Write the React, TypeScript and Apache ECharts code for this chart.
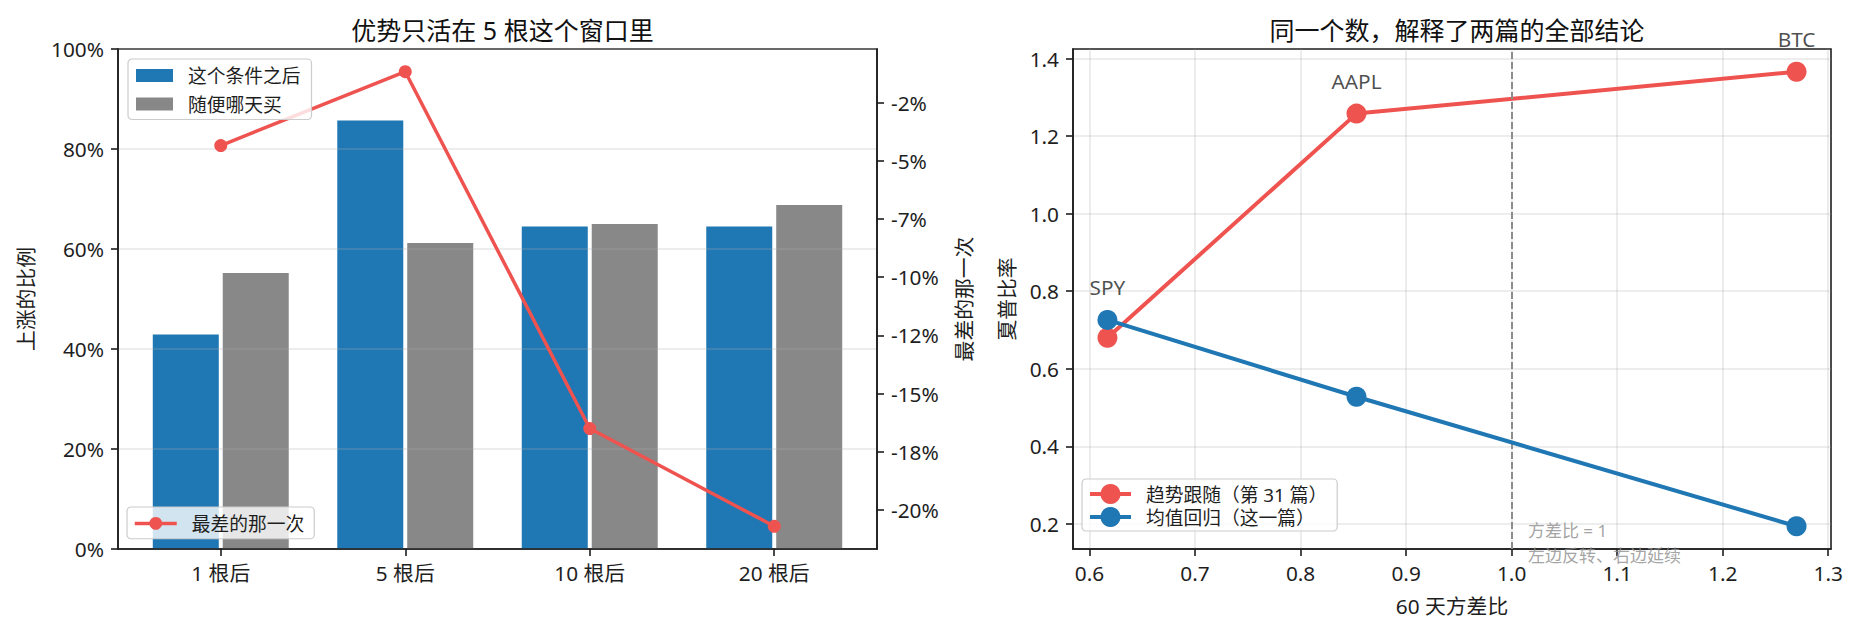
import React, { useEffect, useRef } from "react";
import * as echarts from "echarts";

// ---------- data ----------
const horizons = ["1 根后", "5 根后", "10 根后", "20 根后"];
const afterSignalUp = [42.9, 85.7, 64.5, 64.5];
const randomDayUp = [55.2, 61.2, 65.0, 68.8];
const worstDrop = [-4.34, -1.17, -16.5, -20.7];
const pctTickValues = [0, 20, 40, 60, 80, 100];
const worstTickValues = [-2.5, -5, -7.5, -10, -12.5, -15, -17.5, -20];
const worstTickLabels = ["-2%", "-5%", "-7%", "-10%", "-12%", "-15%", "-18%", "-20%"];

const assets = ["SPY", "AAPL", "BTC"];
const varianceRatio = [0.617, 0.853, 1.27];
const trendSharpe = [0.68, 1.258, 1.366];
const meanRevSharpe = [0.726, 0.528, 0.194];
const ratioTickValues = [0.6, 0.7, 0.8, 0.9, 1.0, 1.1, 1.2, 1.3];
const sharpeTickValues = [0.2, 0.4, 0.6, 0.8, 1.0, 1.2, 1.4];
const pivotRatio = 1.0;
const noteOffset = 0.015;
const noteY = 0.15;
const noteLines = ["方差比 = 1", "左边反转、右边延续"];

const seriesNames = {
  cond: "这个条件之后",
  rand: "随便哪天买",
  worst: "最差的那一次",
  trend: "趋势跟随（第 31 篇）",
  meanRev: "均值回归（这一篇）",
};

// ---------- style ----------
const FONT = "'Noto Sans', 'Noto Sans CJK SC', sans-serif";
const INK = "#1e1e1e";
const RED = "#ef5350";
const BLUE = "#1f77b4";
const GRAY = "#888888";
const GRID_LINE = "rgba(176,176,176,0.3)";
const TICK = 20.8;
const LEG = 18.75;

const pad = (lo: number, hi: number) => {
  const m = (hi - lo) * 0.05;
  return [lo - m, hi + m];
};
const near = (v: number, step: number) =>
  Math.abs(v / step - Math.round(v / step)) < 1e-6;

const [wMin, wMax] = pad(Math.min(...worstDrop), Math.max(...worstDrop));
const [vMin, vMax] = pad(Math.min(...varianceRatio), Math.max(...varianceRatio));
const allSharpe = [...trendSharpe, ...meanRevSharpe];
const [sMin, sMax] = pad(Math.min(...allSharpe), Math.max(...allSharpe));
const horizonIdx = horizons.map((_, i) => i);

const axisLine = { show: true, onZero: false, lineStyle: { color: INK, width: 1.6 } };
const tickOf = (values: number[]) => ({
  show: true,
  length: 7,
  customValues: values,
  lineStyle: { color: INK, width: 1.6 },
});
const labelOf = (values: number[], formatter: any) => ({
  margin: 14,
  fontSize: TICK,
  color: INK,
  fontFamily: FONT,
  customValues: values,
  formatter,
});
const nameStyle = { fontSize: TICK, color: INK, fontFamily: FONT };
const legendBase = {
  backgroundColor: "rgba(255,255,255,0.8)",
  borderColor: "#cccccc",
  borderWidth: 1.2,
  borderRadius: 4,
  z: 10,
  textStyle: { fontSize: LEG, color: INK, fontFamily: FONT, padding: [0, 0, 0, 10] },
};

function buildOption() {
  return {
    animation: false,
    textStyle: { fontFamily: FONT },
    title: [
      {
        text: "优势只活在 5 根这个窗口里",
        left: 497.5,
        top: 12,
        textAlign: "center",
        textStyle: { fontSize: 25, fontWeight: "normal", color: "#111", fontFamily: FONT },
      },
      {
        text: "同一个数，解释了两篇的全部结论",
        left: 1452,
        top: 12,
        textAlign: "center",
        textStyle: { fontSize: 25, fontWeight: "normal", color: "#111", fontFamily: FONT },
      },
    ],
    grid: [
      { left: 118, top: 49, width: 759, height: 500, show: true, borderColor: INK, borderWidth: 1.6, backgroundColor: "transparent" },
      { left: 1073, top: 49, width: 758, height: 500, show: true, borderColor: INK, borderWidth: 1.6, backgroundColor: "transparent" },
    ],
    xAxis: [
      {
        gridIndex: 0,
        type: "value",
        min: -0.557,
        max: 3.557,
        minInterval: 1,
        maxInterval: 1,
        z: 3,
        axisLine,
        axisTick: tickOf(horizonIdx),
        splitLine: { show: false },
        axisLabel: labelOf(horizonIdx, (v: number) =>
          near(v, 1) ? horizons[Math.round(v)] ?? "" : ""
        ),
      },
      {
        gridIndex: 1,
        type: "value",
        min: vMin,
        max: vMax,
        minInterval: 0.1,
        maxInterval: 0.1,
        name: "60 天方差比",
        nameLocation: "middle",
        nameGap: 47,
        nameTextStyle: nameStyle,
        axisLine,
        axisTick: tickOf(ratioTickValues),
        splitLine: { show: true, lineStyle: { color: GRID_LINE, width: 1.6 } },
        axisLabel: labelOf(ratioTickValues, (v: number) => (near(v, 0.1) ? v.toFixed(1) : "")),
      },
    ],
    yAxis: [
      {
        gridIndex: 0,
        type: "value",
        min: 0,
        max: 100,
        interval: 20,
        z: 3,
        name: "上涨的比例",
        nameLocation: "middle",
        nameRotate: 90,
        nameGap: 82,
        nameTextStyle: nameStyle,
        axisLine,
        axisTick: tickOf(pctTickValues),
        splitLine: { show: true, lineStyle: { color: GRID_LINE, width: 1.6 } },
        axisLabel: labelOf(pctTickValues, (v: number) => `${Math.round(v)}%`),
      },
      {
        gridIndex: 0,
        type: "value",
        position: "right",
        min: wMin,
        max: wMax,
        minInterval: 2.5,
        maxInterval: 2.5,
        z: 3,
        name: "最差的那一次",
        nameLocation: "middle",
        nameRotate: 90,
        nameGap: 77,
        nameTextStyle: nameStyle,
        axisLine,
        axisTick: tickOf(worstTickValues),
        splitLine: { show: false },
        axisLabel: labelOf(worstTickValues, (v: number) => {
          const i = worstTickValues.findIndex((t) => Math.abs(t - v) < 1e-6);
          return i >= 0 ? worstTickLabels[i] : "";
        }),
      },
      {
        gridIndex: 1,
        type: "value",
        min: sMin,
        max: sMax,
        minInterval: 0.2,
        maxInterval: 0.2,
        name: "夏普比率",
        nameLocation: "middle",
        nameRotate: 90,
        nameGap: 56,
        nameTextStyle: nameStyle,
        axisLine,
        axisTick: tickOf(sharpeTickValues),
        splitLine: { show: true, lineStyle: { color: GRID_LINE, width: 1.6 } },
        axisLabel: labelOf(sharpeTickValues, (v: number) => (near(v, 0.2) ? v.toFixed(1) : "")),
      },
    ],
    legend: [
      {
        ...legendBase,
        data: [seriesNames.cond, seriesNames.rand],
        orient: "vertical",
        left: 128,
        top: 59,
        icon: "rect",
        itemWidth: 37,
        itemHeight: 13,
        itemGap: 10,
        padding: [7, 11, 6, 8],
      },
      {
        ...legendBase,
        data: [seriesNames.worst],
        orient: "vertical",
        left: 127,
        top: 507,
        itemWidth: 42,
        itemHeight: 16,
        lineStyle: { width: 3.5 },
        padding: [7, 10, 6, 6],
      },
      {
        ...legendBase,
        data: [seriesNames.trend, seriesNames.meanRev],
        orient: "vertical",
        left: 1082,
        top: 479,
        itemWidth: 41,
        itemHeight: 25,
        itemGap: 3,
        lineStyle: { width: 4 },
        padding: [5, 10, 4, 6],
      },
    ],
    series: [
      {
        type: "bar",
        name: seriesNames.cond,
        xAxisIndex: 0,
        yAxisIndex: 0,
        data: horizons.map((_, i) => [i, afterSignalUp[i]]),
        barWidth: 66,
        barGap: "6%",
        itemStyle: { color: BLUE },
        z: 2,
      },
      {
        type: "bar",
        name: seriesNames.rand,
        xAxisIndex: 0,
        yAxisIndex: 0,
        data: horizons.map((_, i) => [i, randomDayUp[i]]),
        barWidth: 66,
        barGap: "6%",
        itemStyle: { color: GRAY },
        z: 2,
      },
      {
        type: "line",
        name: seriesNames.worst,
        xAxisIndex: 0,
        yAxisIndex: 1,
        data: horizons.map((_, i) => [i, worstDrop[i]]),
        symbol: "circle",
        symbolSize: 13,
        lineStyle: { color: RED, width: 3.5 },
        itemStyle: { color: RED },
        z: 5,
      },
      {
        type: "line",
        name: seriesNames.trend,
        xAxisIndex: 1,
        yAxisIndex: 2,
        data: varianceRatio.map((x, i) => [x, trendSharpe[i]]),
        symbol: "circle",
        symbolSize: 20,
        lineStyle: { color: RED, width: 4 },
        itemStyle: { color: RED },
        z: 4,
        markLine: {
          silent: true,
          symbol: ["none", "none"],
          label: { show: false },
          lineStyle: { color: "#8c8c8c", type: [7, 3], width: 2 },
          data: [{ xAxis: pivotRatio }],
        },
      },
      {
        type: "line",
        name: seriesNames.meanRev,
        xAxisIndex: 1,
        yAxisIndex: 2,
        data: varianceRatio.map((x, i) => [x, meanRevSharpe[i]]),
        symbol: "circle",
        symbolSize: 20,
        lineStyle: { color: BLUE, width: 4 },
        itemStyle: { color: BLUE },
        z: 5,
      },
      {
        type: "scatter",
        name: "assets",
        xAxisIndex: 1,
        yAxisIndex: 2,
        data: assets.map((a, i) => ({
          name: a,
          value: [varianceRatio[i], Math.max(trendSharpe[i], meanRevSharpe[i])],
        })),
        symbolSize: 1,
        itemStyle: { color: "transparent" },
        label: {
          show: true,
          position: "top",
          distance: 22,
          formatter: "{b}",
          fontSize: TICK,
          color: INK,
          fontFamily: FONT,
        },
        z: 6,
      },
      {
        type: "scatter",
        name: "note",
        xAxisIndex: 1,
        yAxisIndex: 2,
        data: [{ value: [pivotRatio + noteOffset, noteY] }],
        symbolSize: 1,
        itemStyle: { color: "transparent" },
        label: {
          show: true,
          position: "right",
          distance: 0,
          align: "left",
          verticalAlign: "middle",
          formatter: noteLines.join("\n"),
          fontSize: 17,
          lineHeight: 25,
          color: "#8c8c8c",
          fontFamily: FONT,
        },
        z: 6,
      },
    ],
  };
}

export default function App() {
  const ref = useRef<HTMLDivElement>(null);
  useEffect(() => {
    if (!ref.current) return;
    const chart = echarts.init(ref.current, undefined, { renderer: "svg" });
    chart.setOption(buildOption() as any);
    return () => chart.dispose();
  }, []);
  return (
    <div
      ref={ref}
      style={{ position: "absolute", left: 0, top: 0, width: 1859, height: 630, background: "#fff" }}
    />
  );
}
